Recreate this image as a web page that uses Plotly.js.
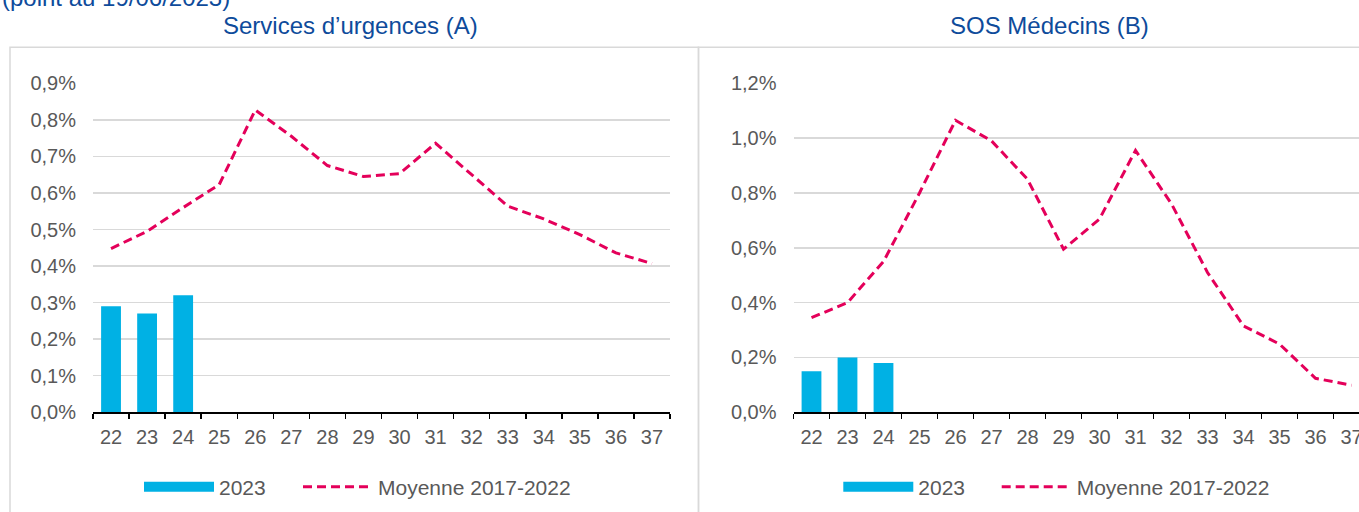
<!DOCTYPE html>
<html>
<head>
<meta charset="utf-8">
<script src="https://cdn.plot.ly/plotly-3.0.1.min.js"></script>
<style>
  html, body { margin: 0; padding: 0; overflow: hidden; background: #fff; }
  #chart { width: 1380px; height: 512px; }
</style>
</head>
<body>
<div id="chart"></div>
<script>
// ---- Data ----
const weeks = ['22','23','24','25','26','27','28','29','30','31','32','33','34','35','36','37'];
const weeks2023 = ['22','23','24'];
const urgences2023 = [0.29, 0.27, 0.32];
const urgencesMoyenne = [0.448, 0.495, 0.56, 0.623, 0.827, 0.755, 0.675, 0.645, 0.653, 0.736, 0.65, 0.564, 0.529, 0.486, 0.436, 0.407];
const sos2023 = [0.15, 0.20, 0.18];
const sosMoyenne = [0.345, 0.40, 0.55, 0.80, 1.065, 0.99, 0.85, 0.595, 0.705, 0.955, 0.76, 0.51, 0.315, 0.249, 0.124, 0.099];
const seriesNames = ['2023', 'Moyenne 2017-2022'];
const panelTitles = ['Services d’urgences (A)', 'SOS Médecins (B)'];
const topNote = '(point au 19/06/2023)';

// ---- Styles ----
const W = 1380, H = 512;
const px = v => v / W;
const py = v => 1 - v / H;
const barColor = '#00B1E4';
const lineColor = '#E4005A';
const titleColor = '#0E4B9B';
const textGray = '#595959';
const gridColor = '#D9D9D9';
const FONT = 'Liberation Sans, Arial, sans-serif';

function barTrace(x, y, xa, ya) {
  return { type: 'bar', x: x, y: y, xaxis: xa, yaxis: ya, marker: { color: barColor },
           showlegend: false, hoverinfo: 'skip' };
}
function lineTrace(x, y, xa, ya, leg) {
  return { type: 'scatter', mode: 'lines', x: x, y: y, xaxis: xa, yaxis: ya, name: seriesNames[1],
           line: { color: lineColor, width: 3, dash: '9px,5px' }, legend: leg, hoverinfo: 'skip' };
}
function keyTrace(xa, ya, leg) {
  // legend key for the bar series (wide rectangle like the original)
  return { type: 'scatter', mode: 'lines', x: [null], y: [null], xaxis: xa, yaxis: ya, name: seriesNames[0],
           line: { color: barColor, width: 12 }, legend: leg, hoverinfo: 'skip' };
}

const data = [
  barTrace(weeks2023, urgences2023, 'x', 'y'),
  keyTrace('x', 'y', 'legend'),
  lineTrace(weeks, urgencesMoyenne, 'x', 'y', 'legend2'),
  barTrace(weeks2023, sos2023, 'x2', 'y2'),
  keyTrace('x2', 'y2', 'legend3'),
  lineTrace(weeks, sosMoyenne, 'x2', 'y2', 'legend4')
];

function xAxis(domain, anchor) {
  return {
    domain: domain, anchor: anchor, type: 'category', categoryorder: 'array', categoryarray: weeks,
    range: [-0.5, weeks.length - 0.5], fixedrange: true,
    showgrid: false, zeroline: false, showline: true, linecolor: '#000', linewidth: 1.5,
    ticks: 'outside', tickson: 'boundaries', ticklen: 5, tickwidth: 1.5, tickcolor: '#000',
    tickfont: { family: FONT, size: 20, color: textGray }, ticklabelstandoff: 6
  };
}
function yAxis(domain, anchor, max, dtick) {
  return {
    domain: domain, anchor: anchor, range: [0, max], dtick: dtick, tick0: 0, fixedrange: true,
    showgrid: true, gridcolor: gridColor, gridwidth: 1.5, zeroline: false, showline: false,
    ticks: '', tickformat: '.1f', ticksuffix: '%',
    tickfont: { family: FONT, size: 20, color: textGray }, ticklabelstandoff: 16
  };
}

const yDom = [py(412.3), py(83.3)];
function legendAt(xpx) {
  return {
    orientation: 'h', xanchor: 'left', yanchor: 'middle', y: py(487), x: px(xpx),
    font: { family: FONT, size: 21, color: textGray }, itemwidth: 70,
    bgcolor: 'rgba(0,0,0,0)', borderwidth: 0, itemclick: false, itemdoubleclick: false
  };
}

const layout = {
  width: W, height: H, margin: { l: 0, r: 0, t: 0, b: 0 },
  paper_bgcolor: '#fff', plot_bgcolor: '#fff',
  separators: ', ', bargap: 0.45, showlegend: true,
  font: { family: FONT, color: textGray },
  xaxis: xAxis([px(93), px(670)], 'y'),
  yaxis: yAxis(yDom, 'x', 0.9, 0.1),
  xaxis2: xAxis([px(793.5), px(1369.5)], 'y2'),
  yaxis2: yAxis(yDom, 'x2', 1.2, 0.2),
  legend: legendAt(139),
  legend2: legendAt(298),
  legend3: legendAt(838.3),
  legend4: legendAt(996.7),
  shapes: [
    { type: 'rect', xref: 'paper', yref: 'paper', x0: px(10), x1: px(698.5), y0: -0.1, y1: py(47.3),
      line: { color: gridColor, width: 1.5 }, layer: 'below' },
    { type: 'rect', xref: 'paper', yref: 'paper', x0: px(698.5), x1: 1.1, y0: -0.1, y1: py(47.3),
      line: { color: gridColor, width: 1.5 }, layer: 'below' }
  ],
  annotations: [
    { text: panelTitles[0], xref: 'paper', yref: 'paper', x: px(350.5), y: py(25), xanchor: 'center', yanchor: 'middle',
      showarrow: false, font: { family: FONT, size: 24, color: titleColor } },
    { text: panelTitles[1], xref: 'paper', yref: 'paper', x: px(1049.3), y: py(25), xanchor: 'center', yanchor: 'middle',
      showarrow: false, font: { family: FONT, size: 24, color: titleColor } },
    { text: topNote, xref: 'paper', yref: 'paper', x: 0, y: py(-3), xanchor: 'left', yanchor: 'middle',
      showarrow: false, font: { family: FONT, size: 24, color: titleColor } }
  ]
};

Plotly.newPlot('chart', data, layout, { staticPlot: true, displayModeBar: false });
</script>
</body>
</html>
